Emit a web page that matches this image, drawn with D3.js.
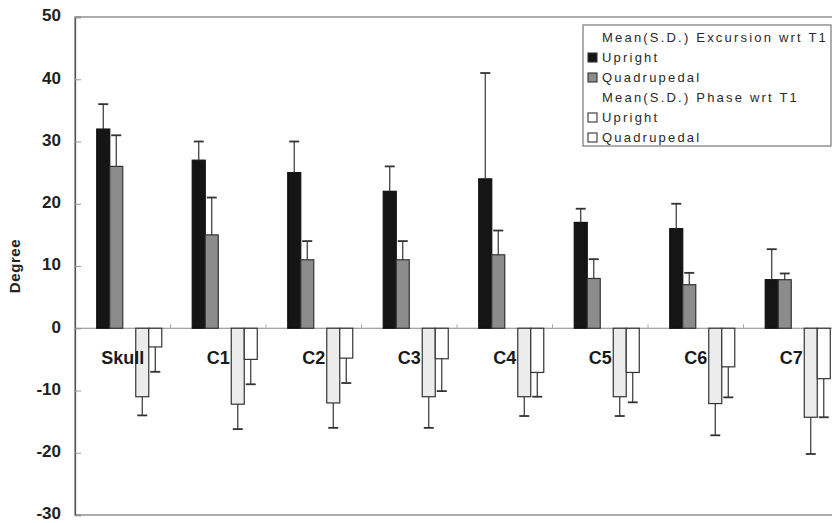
<!DOCTYPE html>
<html>
<head>
<meta charset="utf-8">
<script src="https://cdn.jsdelivr.net/npm/d3@7"></script>
<style>
  body { margin: 0; background: #fff; }
  svg { display: block; }
</style>
</head>
<body>
<svg width="832" height="523"></svg>
<script>
// data
const categories = ['Skull', 'C1', 'C2', 'C3', 'C4', 'C5', 'C6', 'C7'];
const excUpright = [32, 27, 25, 22, 24, 17, 16, 7.8];
const excUprightSD = [4, 3, 5, 4, 17, 2.2, 4, 4.9];
const excQuad = [26, 15, 11, 11, 11.8, 8, 7, 7.8];
const excQuadSD = [5, 6, 3, 3, 3.9, 3.1, 1.9, 1];
const phaseUpright = [-11, -12.2, -12, -11, -11, -11, -12.1, -14.3];
const phaseUprightSD = [3, 4, 4, 5, 3.1, 3.1, 5.1, 5.9];
const phaseQuad = [-3, -5, -4.8, -4.9, -7.1, -7.1, -6.2, -8.1];
const phaseQuadSD = [4, 4, 4, 5.2, 3.9, 4.8, 4.9, 6.2];
const yTicks = [-30, -20, -10, 0, 10, 20, 30, 40, 50];
const legendLabels = ['Mean(S.D.) Excursion wrt T1', 'Upright', 'Quadrupedal',
                      'Mean(S.D.) Phase wrt T1', 'Upright', 'Quadrupedal'];

// slots inside each group: the two header entries are empty series
const slots = ['hdr1', 'up', 'quad', 'hdr2', 'phUp', 'phQuad'];

const series = [
    {slot: 'up', vals: excUpright, sd: excUprightSD, fill: '#151515', stroke: '#111'},
    {slot: 'quad', vals: excQuad, sd: excQuadSD, fill: '#8c8c8c', stroke: '#333'},
    {slot: 'phUp', vals: phaseUpright, sd: phaseUprightSD, fill: '#ececec', stroke: '#333'},
    {slot: 'phQuad', vals: phaseQuad, sd: phaseQuadSD, fill: '#ffffff', stroke: '#333'}
];

const font = "'Liberation Sans', Arial, sans-serif";
const plotLeft = 75, plotRight = 839, plotTop = 17, plotBottom = 515;

const svg = d3.select('svg');

const xScale = d3.scaleBand()
    .domain(categories)
    .range([plotLeft, plotRight])
    .paddingInner(0.183)
    .paddingOuter(0.0915);

const xSlot = d3.scaleBand()
    .domain(slots)
    .range([0, xScale.bandwidth()]);

const yScale = d3.scaleLinear()
    .domain([-30, 50])
    .range([plotBottom, plotTop]);

// plot frame
svg.append('rect')
    .attr('x', plotLeft)
    .attr('y', plotTop)
    .attr('width', plotRight - plotLeft)
    .attr('height', plotBottom - plotTop)
    .attr('fill', 'none')
    .attr('stroke', '#777')
    .attr('stroke-width', 1.2);

// y axis, ticks pointing into the plot
const yAxis = svg.append('g')
    .attr('transform', `translate(${plotLeft}, 0)`)
    .call(d3.axisRight(yScale).tickValues(yTicks).tickSize(6).tickFormat(''));
yAxis.select('.domain').attr('stroke', '#555').attr('stroke-width', 1.3);
yAxis.selectAll('.tick line').attr('stroke', '#999');

svg.append('g')
    .selectAll('text')
    .data(yTicks)
    .enter()
    .append('text')
    .attr('x', 61)
    .attr('y', d => yScale(d))
    .attr('dy', '0.25em')
    .attr('text-anchor', 'end')
    .attr('font-family', font)
    .attr('font-weight', 'bold')
    .attr('font-size', 17)
    .attr('fill', '#222')
    .text(d => d);

svg.append('text')
    .attr('transform', `translate(20, ${yScale(10)}) rotate(-90)`)
    .attr('text-anchor', 'middle')
    .attr('font-family', font)
    .attr('font-weight', 'bold')
    .attr('font-size', 15)
    .attr('letter-spacing', 0.6)
    .attr('fill', '#222')
    .text('Degree');

// zero line with small category ticks
svg.append('line')
    .attr('x1', plotLeft)
    .attr('x2', plotRight)
    .attr('y1', yScale(0))
    .attr('y2', yScale(0))
    .attr('stroke', '#888')
    .attr('stroke-width', 1.2);

svg.append('g')
    .selectAll('line')
    .data(categories.slice(1))
    .enter()
    .append('line')
    .attr('x1', d => xScale(d) - xScale.step() * xScale.paddingInner() / 2)
    .attr('x2', d => xScale(d) - xScale.step() * xScale.paddingInner() / 2)
    .attr('y1', yScale(0))
    .attr('y2', yScale(0) - 4)
    .attr('stroke', '#aaa');

// bars
const groups = svg.append('g')
    .selectAll('g')
    .data(categories)
    .enter()
    .append('g')
    .attr('transform', d => `translate(${xScale(d)}, 0)`);

series.forEach(s => {
    const bw = xSlot.bandwidth();
    groups.append('rect')
        .attr('x', xSlot(s.slot))
        .attr('y', (d, i) => yScale(Math.max(0, s.vals[i])))
        .attr('width', bw)
        .attr('height', (d, i) => Math.abs(yScale(s.vals[i]) - yScale(0)))
        .attr('fill', s.fill)
        .attr('stroke', s.stroke)
        .attr('stroke-width', 1.2);

    // one-sided error bars, away from zero
    const cx = xSlot(s.slot) + bw / 2;
    const end = i => s.vals[i] + Math.sign(s.vals[i]) * s.sd[i];
    groups.append('line')
        .attr('x1', cx)
        .attr('x2', cx)
        .attr('y1', (d, i) => yScale(s.vals[i]))
        .attr('y2', (d, i) => yScale(end(i)))
        .attr('stroke', '#333')
        .attr('stroke-width', 1.2);
    groups.append('line')
        .attr('x1', cx - 5)
        .attr('x2', cx + 5)
        .attr('y1', (d, i) => yScale(end(i)))
        .attr('y2', (d, i) => yScale(end(i)))
        .attr('stroke', '#333')
        .attr('stroke-width', 1.8);
});

// category labels centred under each group
groups.append('text')
    .attr('x', xScale.bandwidth() / 2)
    .attr('y', yScale(0) + 36)
    .attr('text-anchor', 'middle')
    .attr('font-family', font)
    .attr('font-weight', 'bold')
    .attr('font-size', 18)
    .attr('fill', '#1a1a1a')
    .text(d => d);

// legend
const legend = svg.append('g').attr('transform', 'translate(583, 25)');
legend.append('rect')
    .attr('width', 248)
    .attr('height', 121)
    .attr('fill', '#fff')
    .attr('stroke', '#777')
    .attr('stroke-width', 1.2);

const swatches = [null, series[0], series[1], null, series[2], series[3]];
legendLabels.forEach((lab, i) => {
    const yy = 12 + i * 20;
    const sw = swatches[i];
    if (sw) {
        legend.append('rect')
            .attr('x', 5)
            .attr('y', yy - 4)
            .attr('width', 9)
            .attr('height', 9)
            .attr('fill', i === 4 ? '#fff' : sw.fill)
            .attr('stroke', '#333')
            .attr('stroke-width', 1.1);
    }
    legend.append('text')
        .attr('x', 19)
        .attr('y', yy)
        .attr('dy', '0.38em')
        .attr('font-family', font)
        .attr('font-size', 13)
        .attr('letter-spacing', 2.2)
        .attr('fill', '#2a2a2a')
        .text(lab);
});
</script>
</body>
</html>
